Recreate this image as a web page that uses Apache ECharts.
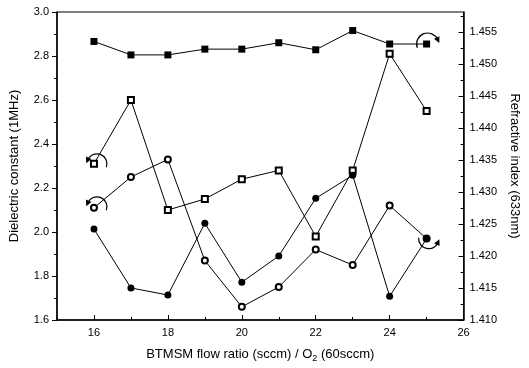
<!DOCTYPE html>
<html>
<head>
<meta charset="utf-8">
<script src="https://cdn.jsdelivr.net/npm/echarts@6/dist/echarts.min.js"></script>
<style>
  html, body { margin: 0; padding: 0; background: #fff; }
  #chart { width: 529px; height: 368px; }
</style>
</head>
<body>
<div id="chart"></div>
<script>
// BTMSM flow ratio (x)
const flow = [16, 17, 18, 19, 20, 21, 22, 23, 24, 25];
// dielectric constant (left axis)
const dielOpenSquare = [2.31, 2.60, 2.10, 2.15, 2.24, 2.28, 1.98, 2.28, 2.81, 2.55];
const dielOpenCircle = [2.11, 2.25, 2.33, 1.87, 1.66, 1.75, 1.92, 1.85, 2.12, 1.97];
// refractive index (right axis)
const riFilledSquare = [1.4535, 1.4514, 1.4514, 1.4523, 1.4523, 1.4533, 1.4522, 1.4552, 1.4531, 1.4531];
const riFilledCircle = [1.4242, 1.4150, 1.4139, 1.4251, 1.4159, 1.4200, 1.4290, 1.4326, 1.4137, 1.4227];

const xMajor = [16, 18, 20, 22, 24, 26];
const xMinor = [15, 17, 19, 21, 23, 25];
const riMajor = ['1.410', '1.415', '1.420', '1.425', '1.430', '1.435', '1.440', '1.445', '1.450', '1.455'];
const riMinor = ['1.4125', '1.4175', '1.4225', '1.4275', '1.4325', '1.4375', '1.4425', '1.4475', '1.4525', '1.4575'];

const font = 'Liberation Sans, Arial, sans-serif';
const pairs = (ys) => flow.map((x, i) => [x, ys[i]]);

const chart = echarts.init(document.getElementById('chart'));

const baseSeries = (name, data, yIdx, symbol) => {
  const empty = symbol.indexOf('empty') === 0;
  return {
    name: name,
    type: 'line',
    xAxisIndex: 0,
    yAxisIndex: yIdx,
    data: pairs(data),
    symbol: symbol,
    symbolSize: empty ? 6 : 7,
    lineStyle: { color: '#000', width: 1 },
    itemStyle: { color: '#000', borderWidth: empty ? 0.8 : 1 },
    z: empty ? 3 : 4,
    animation: false
  };
};

chart.setOption({
  animation: false,
  backgroundColor: '#fff',
  grid: { left: 54, right: 60, top: 12, bottom: 47, show: true, borderColor: '#000', borderWidth: 1 },
  xAxis: [
    {
      type: 'value', min: 15, max: 26,
      name: '{a|BTMSM flow ratio (sccm) / O}{s|2}{a| (60sccm)}',
      nameLocation: 'middle', nameGap: 26,
      nameTextStyle: {
        rich: {
          a: { fontFamily: font, fontSize: 13, color: '#000' },
          s: { fontFamily: font, fontSize: 9, color: '#000', padding: [8, 0, 0, 0] }
        }
      },
      axisLine: { onZero: false, lineStyle: { color: '#000', width: 1.5 } },
      axisTick: { inside: true, length: 5, customValues: xMajor, lineStyle: { color: '#000' } },
      axisLabel: { customValues: xMajor, fontFamily: font, fontSize: 11, color: '#000', margin: 7 },
      splitLine: { show: false }
    },
    {
      type: 'value', min: 15, max: 26, position: 'bottom',
      axisLine: { show: false, onZero: false },
      axisTick: { inside: true, length: 3, customValues: xMinor, lineStyle: { color: '#000' } },
      axisLabel: { show: false },
      splitLine: { show: false }
    }
  ],
  yAxis: [
    {
      type: 'value', min: 1.6, max: 3.0, interval: 0.2, position: 'left',
      name: 'Dielectric constant (1MHz)',
      nameLocation: 'middle', nameGap: 36, nameRotate: 90,
      nameTextStyle: { fontFamily: font, fontSize: 13, color: '#000' },
      axisLine: { show: true, onZero: false, lineStyle: { color: '#000', width: 1.5 } },
      axisTick: { length: 5, lineStyle: { color: '#000' } },
      minorTick: { show: true, splitNumber: 2, length: 3, lineStyle: { color: '#000' } },
      axisLabel: { fontFamily: font, fontSize: 11, color: '#000', margin: 8, formatter: (v) => v.toFixed(1) },
      splitLine: { show: false }
    },
    {
      type: 'value', min: 1.410, max: 1.4581, position: 'right',
      name: 'Refractive index (633nm)',
      nameLocation: 'middle', nameGap: 44, nameRotate: -90,
      nameTextStyle: { fontFamily: font, fontSize: 13, color: '#000' },
      axisLine: { show: true, onZero: false, lineStyle: { color: '#000', width: 1.5 } },
      axisTick: { inside: true, length: 5, customValues: riMajor.map(Number), lineStyle: { color: '#000' } },
      axisLabel: { customValues: riMajor.map(Number), fontFamily: font, fontSize: 11, color: '#000', margin: 6, formatter: (v) => v.toFixed(3) },
      splitLine: { show: false }
    },
    {
      type: 'value', min: 1.410, max: 1.4581, position: 'right',
      axisLine: { show: false, onZero: false },
      axisTick: { inside: true, length: 3, customValues: riMinor.map(Number), lineStyle: { color: '#000' } },
      axisLabel: { show: false },
      splitLine: { show: false }
    }
  ],
  series: [
    baseSeries('open square', dielOpenSquare, 0, 'emptyRect'),
    baseSeries('open circle', dielOpenCircle, 0, 'emptyCircle'),
    baseSeries('filled square', riFilledSquare, 1, 'rect'),
    baseSeries('filled circle', riFilledCircle, 1, 'circle')
  ]
});

// curved arrows showing which axis each curve belongs to
const allData = [dielOpenSquare, dielOpenCircle, riFilledSquare, riFilledCircle];
function curvedArrow(seriesIndex, idx, dx, dy, r, a0, a1, clockwise) {
  const p = chart.convertToPixel({ seriesIndex: seriesIndex }, [flow[idx], allData[seriesIndex][idx]]);
  const cx = p[0] + dx, cy = p[1] + dy;
  const s = a0 * Math.PI / 180, e = a1 * Math.PI / 180;
  const ex = cx + r * Math.cos(e), ey = cy + r * Math.sin(e);
  let tx, ty;
  if (clockwise) { tx = -Math.sin(e); ty = Math.cos(e); } else { tx = Math.sin(e); ty = -Math.cos(e); }
  const nx = -ty, ny = tx;
  return [
    { type: 'arc', shape: { cx: cx, cy: cy, r: r, startAngle: s, endAngle: e, clockwise: clockwise },
      style: { stroke: '#000', fill: null, lineWidth: 1.2 }, z: 10 },
    { type: 'polygon', shape: { points: [
        [ex + tx * 4, ey + ty * 4],
        [ex - tx * 2 + nx * 3, ey - ty * 2 + ny * 3],
        [ex - tx * 2 - nx * 3, ey - ty * 2 - ny * 3]
      ] }, style: { fill: '#000' }, z: 10 }
  ];
}

chart.setOption({
  graphic: [].concat(
    curvedArrow(0, 0, 3, 0, 10, 20, 205, false),
    curvedArrow(1, 0, 3, -1, 10, 20, 205, false),
    curvedArrow(2, 9, 1, 0, 11, 160, 335, true),
    curvedArrow(3, 9, 2, 0, 10, 185, 25, false)
  )
});
</script>
</body>
</html>
